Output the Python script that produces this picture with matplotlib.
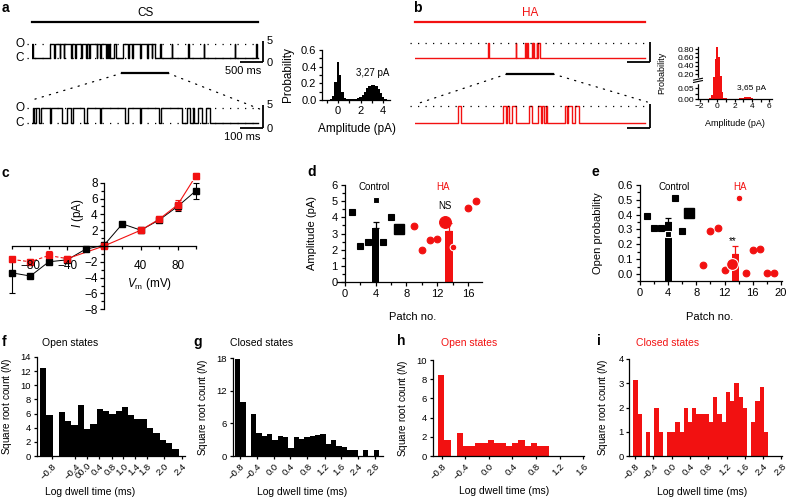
import matplotlib
matplotlib.use('Agg')
import matplotlib.pyplot as plt
import numpy as np
from matplotlib.patches import ConnectionPatch
from matplotlib.ticker import FixedLocator, MultipleLocator, FormatStrFormatter

plt.rcParams['font.family'] = ['Liberation Sans', 'DejaVu Sans']
plt.rcParams['mathtext.fontset'] = 'custom'
plt.rcParams['mathtext.rm'] = 'Liberation Sans'
plt.rcParams['mathtext.it'] = 'Liberation Sans:italic'
plt.rcParams['axes.linewidth'] = 0.9
for k in ['xtick.major.width', 'ytick.major.width', 'xtick.minor.width', 'ytick.minor.width']:
    plt.rcParams[k] = 0.9

W, H = 788, 499
RED = '#f21111'

# ---- single channel traces, open intervals in s ----
cs_amplitude = 3.27
ha_amplitude = 3.65
cs_open = [(0.00, 0.03), (0.40, 0.49), (0.505, 0.61), (0.625, 0.70), (0.715, 0.87), (0.885, 0.96),
           (0.975, 1.09), (1.105, 1.20), (1.215, 1.27), (1.285, 1.43), (1.445, 1.51), (1.525, 1.64),
           (1.655, 1.69), (1.705, 1.73), (1.82, 1.86), (2.01, 2.12), (2.135, 2.21), (2.225, 2.39),
           (2.405, 2.54), (2.555, 2.65), (2.665, 2.72), (2.83, 2.845), (3.09, 3.10), (3.46, 3.475),
           (3.80, 3.81), (4.49, 4.50), (4.96, 4.97)]
cs_zoom_open = [(0.005, 0.009), (0.019, 0.032), (0.038, 0.079), (0.085, 0.132), (0.154, 0.174),
                (0.180, 0.228), (0.243, 0.299), (0.304, 0.412), (0.426, 0.476), (0.481, 0.564),
                (0.569, 0.662), (0.684, 0.700), (0.712, 0.718), (0.735, 0.750), (0.770, 0.787)]
ha_open = [(1.59, 1.60), (2.19, 2.20), (2.39, 2.41), (2.43, 2.46), (2.54, 2.56), (2.575, 2.59),
           (2.645, 2.66), (2.68, 2.72)]
ha_zoom_open = [(0.188, 0.199), (0.384, 0.394), (0.401, 0.410), (0.420, 0.439), (0.497, 0.507),
                (0.533, 0.546), (0.551, 0.561), (0.570, 0.573), (0.652, 0.662), (0.667, 0.681),
                (0.696, 0.714)]

# ---- amplitude histograms ----
amp_centers = [-1.0, -0.8, -0.6, -0.4, -0.2, 0.0, 0.2, 0.4, 0.6, 0.8, 1.0, 1.2, 1.4, 1.6,
               1.8, 2.0, 2.2, 2.4, 2.6, 2.8, 3.0, 3.2, 3.4, 3.6, 3.8, 4.0, 4.2, 4.4]
cs_prob = [0, 0.002, 0.01, 0.05, 0.22, 0.46, 0.30, 0.10, 0.03, 0.012, 0.008, 0.008, 0.01, 0.015,
           0.025, 0.04, 0.065, 0.10, 0.14, 0.165, 0.175, 0.175, 0.165, 0.13, 0.08, 0.04, 0.015, 0.005]
ha_prob = [0.001, 0.003, 0.02, 0.12, 0.55, 0.84, 0.60, 0.15, 0.03, 0.006, 0.003, 0.002, 0.002, 0.002,
           0.002, 0.002, 0.002, 0.002, 0.003, 0.004, 0.006, 0.008, 0.009, 0.009, 0.008, 0.005, 0.002, 0.001]

# ---- I-V ----
iv_voltage = [-100, -80, -60, -40, -20, 0, 20, 40, 60, 80, 100]
iv_control = [-3.4, -3.8, -2.0, -1.75, -0.4, 0.1, 2.8, 2.0, 3.3, 5.0, 7.0]
iv_control_err_low = [2.5, 0.2, 0.3, 0.2, 0.1, 0.1, 0.1, 0.2, 0.3, 0.6, 1.0]
iv_control_err_high = [1.6, 0.2, 0.3, 0.2, 0.1, 0.1, 0.1, 0.2, 0.3, 0.6, 1.0]
iv_ha_voltage = [-100, -80, -60, -40, 0, 40, 60, 80, 100]
iv_ha = [-1.7, -2.0, -1.2, -1.6, 0.0, 2.0, 3.4, 5.2, 8.9]
iv_ha_err = [0.3, 0.4, 0.6, 0.3, 0.1, 0.3, 0.4, 0.6, 0.4]

# ---- per patch amplitude (d) and open probability (e) ----
ctrl_patch = [1, 2, 3, 4, 5, 6]
ctrl_amp = [4.3, 2.2, 2.5, 5.05, 2.5, 4.05]
ctrl_po = [0.39, 0.31, 0.31, 0.27, 0.51, 0.29]
ctrl_example_patch = 7
ctrl_example_amp = 3.3
ctrl_example_po = 0.41
ha_amp_patch = [9, 10, 11, 12, 14, 16, 17]
ha_amp = [3.47, 1.95, 2.57, 2.67, 2.16, 4.56, 5.03]
ha_po_patch = [9, 10, 11, 12, 14, 15, 16, 17, 18, 19]
ha_po = [0.06, 0.29, 0.31, 0.03, 0.51, 0.01, 0.16, 0.17, 0.01, 0.01]
ha_example_patch = 13
ha_example_amp = 3.74
ha_example_po = 0.07
mean_amp = [3.33, 3.18]
sem_amp = [0.41, 0.46]
mean_po = [0.35, 0.135]
sem_po = [0.03, 0.055]
mean_pos = [4, 13.5]

# ---- dwell time histograms (square root counts per bin) ----
f_open_cs = [12.5, 5.8, 0, 6.2, 4.9, 4.4, 7.2, 3.8, 4.5, 6.7, 6.3, 5.9, 6.3, 7.0, 5.8, 5.2, 5.3,
             3.9, 3.3, 2.3, 1.8, 1.0]
f_labels = ['\u22120.8', '\u22120.4', '00.0', '0.4', '0.8', '1.0', '1.4', '1.8', '2.0', '2.4']
g_closed_cs = [17.8, 10.0, 0, 7.8, 4.2, 3.7, 4.0, 2.9, 3.6, 3.4, 1.4, 3.4, 3.1, 3.4, 3.7, 3.9, 4.0,
               2.2, 2.9, 1.8, 1.7, 1.1, 1.1, 0, 1.1, 0, 1.1]
g_labels = ['\u22120.8', '\u22120.4', '0.0', '0.4', '0.8', '1.2', '1.6', '2.4', '2.8']
h_open_ha = [8.4, 1.7, 0, 2.4, 1.0, 1.0, 1.4, 1.4, 1.7, 1.4, 1.4, 1.0, 1.4, 1.7, 1.0, 1.4, 1.0, 1.0]
h_labels = ['\u22120.8', '\u22120.4', '0.0', '0.4', '0.8', '1.2', '1.6']
i_closed_ha = [3.15, 1.75, 0, 1.0, 0, 2.0, 1.0, 0, 1.0, 1.0, 1.4, 1.0, 2.0, 1.4, 2.0, 1.75, 1.75,
               1.75, 1.4, 2.45, 1.75, 1.4, 2.65, 2.25, 3.0, 2.45, 2.0, 0, 1.4, 2.25, 2.85, 1.0]
i_labels = ['\u22120.8', '\u22120.4', '0.0', '0.4', '0.8', '1.2', '1.6', '2.4', '2.8']

fig = plt.figure(figsize=(W / 100, H / 100), dpi=100)


def px_axes(x0, y0, x1, y1):
    return fig.add_axes([x0 / W, 1 - y1 / H, (x1 - x0) / W, (y1 - y0) / H])


def ftext(x, y, s, **kw):
    fig.text(x / W, 1 - y / H, s, **kw)


def step_trace(intervals, amplitude, duration):
    t, i = [0.0], [0.0]
    for start, end in intervals:
        t += [start, start, end, end]
        i += [0.0, amplitude, amplitude, 0.0]
    t.append(duration)
    i.append(0.0)
    return t, i


def draw_trace(ax, intervals, amplitude, duration, color, dotted, scale_time, labels):
    t, i = step_trace(intervals, amplitude, duration)
    ax.plot(t, i, color=color, lw=1.0)
    for level in dotted:
        ax.plot([-0.02 * duration, duration], [level, level], color='k', lw=0.9,
                ls=(0, (1, 5)), clip_on=False)
    sx = duration * 1.022
    ax.plot([sx, sx], [-1.0, 4.0], color='k', lw=1.3, clip_on=False, solid_capstyle='butt')
    ax.plot([sx - scale_time, sx], [-1.0, -1.0], color='k', lw=1.3, clip_on=False,
            solid_capstyle='butt')
    if labels:
        ax.text(sx + 0.014 * duration, 4.0, '5', fontsize=8, va='center', ha='left')
        ax.text(sx + 0.014 * duration, -1.2, '0', fontsize=8, va='center', ha='left')
        ax.text(sx - 0.01 * duration, -3.1, labels, fontsize=8, va='center', ha='right')
    ax.axis('off')


# ---------------- a: CS traces ----------------
ax_a1 = px_axes(32, 36.5, 271.6, 66.6)
ax_a1.set_xlim(0, 5.3)
ax_a1.set_ylim(-2, 5)
draw_trace(ax_a1, cs_open, cs_amplitude, 5.0, 'k', [0, cs_amplitude], 0.5, '500 ms')
ax_a1.plot([0, 5.0], [8.4, 8.4], color='k', lw=1.6, clip_on=False)
ax_a1.text(2.5, 10.4, 'CS', ha='center', va='center', fontsize=8.5)
ax_a1.plot([2.0, 3.0], [-3.5, -3.5], color='k', lw=1.6, clip_on=False)
for lvl, s in [(cs_amplitude, 'O'), (0, 'C')]:
    ax_a1.text(-0.05, lvl, s, transform=ax_a1.get_yaxis_transform(), ha='center', va='center',
               fontsize=8.5)

ax_a2 = px_axes(32, 95.4, 271.6, 132.2)
ax_a2.set_xlim(0, 1.06)
ax_a2.set_ylim(-2, 6)
draw_trace(ax_a2, cs_zoom_open, cs_amplitude, 1.0, 'k', [0, cs_amplitude], 0.1, '100 ms')
for lvl, s in [(cs_amplitude, 'O'), (0, 'C')]:
    ax_a2.text(-0.05, lvl, s, transform=ax_a2.get_yaxis_transform(), ha='center', va='center',
               fontsize=8.5)
for xa, xb, yb in [(2.0, 0.0, 5.0), (3.0, 1.02, 2.8)]:
    fig.add_artist(ConnectionPatch(xyA=(xa, -3.5), coordsA=ax_a1.transData, xyB=(xb, yb),
                                   coordsB=ax_a2.transData, color='k', lw=0.9, ls=(0, (1, 5))))

# ---------------- b: HA traces ----------------
ax_b1 = px_axes(415, 38, 658.8, 66)
ax_b1.set_xlim(0, 5.3)
ax_b1.set_ylim(-2, 5)
draw_trace(ax_b1, ha_open, ha_amplitude, 5.0, RED, [ha_amplitude], 0.5, None)
ax_b1.plot([0, 5.0], [9.0, 9.0], color=RED, lw=1.6, clip_on=False)
ax_b1.text(2.5, 11.2, 'HA', ha='center', va='center', fontsize=8.5, color=RED)
ax_b1.plot([2.0, 3.0], [-4.0, -4.0], color='k', lw=1.6, clip_on=False)

ax_b2 = px_axes(415, 95, 658.8, 132.3)
ax_b2.set_xlim(0, 1.06)
ax_b2.set_ylim(-2, 6)
draw_trace(ax_b2, ha_zoom_open, ha_amplitude, 1.0, RED, [ha_amplitude], 0.1, None)
for xa, xb, yb in [(2.0, 0.02, 4.3), (3.0, 1.01, 4.5)]:
    fig.add_artist(ConnectionPatch(xyA=(xa, -4.0), coordsA=ax_b1.transData, xyB=(xb, yb),
                                   coordsB=ax_b2.transData, color='k', lw=0.9, ls=(0, (1, 5))))


def clean(ax):
    ax.spines['top'].set_visible(False)
    ax.spines['right'].set_visible(False)


# ---------------- amplitude histogram a ----------------
ax = px_axes(322, 50, 390, 100)
ax.bar(amp_centers, cs_prob, width=0.2, color='k', linewidth=0)
ax.set_xlim(-1.4, 4.6)
ax.set_ylim(0, 0.6)
clean(ax)
ax.set_yticks([0, 0.2, 0.4, 0.6])
ax.yaxis.set_major_formatter(FormatStrFormatter('%.1f'))
ax.yaxis.set_minor_locator(MultipleLocator(0.1))
ax.set_xticks([0, 2, 4])
ax.xaxis.set_minor_locator(FixedLocator([-1, 1, 3]))
ax.tick_params(which='both', labelsize=8, length=2.5, pad=1.5)
ax.set_ylabel('Probability', fontsize=8.5)
ax.yaxis.set_label_coords(-0.41, 0.5)
ax.set_xlabel('Amplitude (pA)', fontsize=8.5)
ax.xaxis.set_label_coords(0.52, -0.46)
ax.text(3.1, 0.32, '3,27 pA', ha='center', va='center', fontsize=7)

# ---------------- amplitude histogram b (broken axis) ----------------
def fwd(v):
    return np.interp(v, [0, 0.075, 0.12, 1.0], [0, 16.5, 21.7, 58.4])


def inv(v):
    return np.interp(v, [0, 16.5, 21.7, 58.4], [0, 0.075, 0.12, 1.0])


ax = px_axes(698, 47, 772, 99)
ax.set_yscale('function', functions=(fwd, inv))
ax.bar(amp_centers, ha_prob, width=0.2, color=RED, linewidth=0)
ax.set_xlim(-2.2, 6.3)
ax.set_ylim(0, 0.85)
clean(ax)
ax.yaxis.set_major_locator(FixedLocator([0, 0.05, 0.2, 0.4, 0.6, 0.8]))
ax.yaxis.set_minor_locator(FixedLocator([0.025, 0.3, 0.5, 0.7]))
ax.yaxis.set_major_formatter(FormatStrFormatter('%.2f'))
ax.set_xticks([-2, 0, 2, 4, 6])
ax.xaxis.set_minor_locator(FixedLocator([-1, 1, 3, 5]))
ax.tick_params(which='both', labelsize=6, length=2, pad=1)
trans = ax.get_yaxis_transform()
ax.plot([0, 0], [0.082, 0.108], transform=trans, color='white', lw=2.5, clip_on=False, zorder=5)
for yb in (0.08, 0.1):
    ax.plot([-0.06, 0.06], [yb - 0.004, yb + 0.012], transform=trans, color='k', lw=0.8,
            clip_on=False, zorder=6)
ax.set_ylabel('Probability', fontsize=6.5)
ax.yaxis.set_label_coords(-0.43, 0.5)
ax.set_xlabel('Amplitude (pA)', fontsize=6.5)
ax.xaxis.set_label_coords(0.5, -0.385)
ax.text(4.0, 0.05, '3,65 pA', ha='center', va='center', fontsize=6)

# ---------------- c: I-V ----------------
ax = px_axes(12, 181.2, 196, 310.8)
ax.set_xlim(-100, 100)
ax.set_ylim(-8.2, 8.2)
ax.set_axisbelow(False)
clean(ax)
ax.spines['left'].set_position(('data', 0))
ax.spines['bottom'].set_position(('data', 0))
ax.spines['left'].set_bounds(-8, 8)
ax.xaxis.set_major_locator(FixedLocator([-80, -40, 40, 80]))
ax.xaxis.set_minor_locator(MultipleLocator(20))
ax.yaxis.set_major_locator(FixedLocator([-8, -6, -4, -2, 2, 4, 6, 8]))
ax.yaxis.set_minor_locator(MultipleLocator(1))
ax.tick_params(which='major', labelsize=8.5, length=3)
ax.tick_params(which='minor', length=2)
ax.tick_params(axis='x', which='major', pad=7)
ax.tick_params(axis='y', which='major', pad=1.5)
ax.plot(iv_voltage, iv_control, color='k', lw=0.7)
ax.errorbar(iv_voltage, iv_control, yerr=[iv_control_err_low, iv_control_err_high], fmt='s',
            ms=3.8, color='k', capsize=2, elinewidth=0.8, capthick=0.8, clip_on=False)
ax.plot(iv_ha_voltage[:4], iv_ha[:4], color=RED, lw=0.8, ls=(0, (3, 2)))
ax.plot(iv_ha_voltage[3:], iv_ha[3:], color=RED, lw=0.8)
ax.errorbar(iv_ha_voltage, iv_ha, yerr=iv_ha_err, fmt='s', ms=3.8, color=RED, capsize=2,
            elinewidth=0.8, capthick=0.8, clip_on=False)
ax.text(0.36, 0.755, '$I$ (pA)', rotation=90, ha='center', va='center', fontsize=8.5,
        transform=ax.transAxes)
ax.text(0.75, 0.207, '$V_\\mathrm{m}$ (mV)', ha='center', va='center', fontsize=8.5,
        transform=ax.transAxes)


def patch_panel(ax, values_ctrl, ex_ctrl, ha_x, values_ha, ex_ha, means, sems, bottom):
    ax.bar(mean_pos, [m - bottom for m in means], bottom=bottom, width=1.0, color=['k', RED],
           linewidth=0, zorder=2)
    for x, m, s, c in zip(mean_pos, means, sems, ['k', RED]):
        ax.errorbar(x, m, yerr=[[0], [s]], color=c, capsize=2.5, elinewidth=0.9, capthick=0.9,
                    zorder=2)
    for x, y in zip(ctrl_patch, values_ctrl):
        edge = 'white' if abs(x - mean_pos[0]) <= 0.5 else 'k'
        ax.plot(x, y, 's', ms=3.8, color='k', mec=edge, mew=0.8, clip_on=False, zorder=3)
    ax.plot(ctrl_example_patch, ex_ctrl, 's', ms=7, color='k', clip_on=False, zorder=3)
    for x, y in zip(ha_x, values_ha):
        edge = 'white' if abs(x - mean_pos[1]) <= 0.5 else RED
        ax.plot(x, y, 'o', ms=4.8, color=RED, mec=edge, mew=0.8, clip_on=False, zorder=3)
    edge = 'white' if abs(ha_example_patch - mean_pos[1]) <= 0.5 and ex_ha < means[1] else RED
    ax.plot(ha_example_patch, ex_ha, 'o', ms=8.5, color=RED, mec=edge, mew=0.8, clip_on=False,
            zorder=3)
    clean(ax)


# ---------------- d: amplitude per patch ----------------
ax = px_axes(337, 185, 482, 282)
patch_panel(ax, ctrl_amp, ctrl_example_amp, ha_amp_patch, ha_amp, ha_example_amp, mean_amp,
            sem_amp, 0)
ax.set_xlim(-1, 17.8)
ax.set_ylim(0, 6)
ax.spines['left'].set_position(('data', 0))
ax.set_xticks([0, 4, 8, 12, 16])
ax.xaxis.set_minor_locator(MultipleLocator(2))
ax.set_yticks(range(0, 7))
ax.yaxis.set_minor_locator(MultipleLocator(0.5))
ax.tick_params(which='major', labelsize=8, length=3, pad=2)
ax.tick_params(which='minor', length=2)
ax.set_ylabel('Amplitude (pA)', fontsize=8)
ax.yaxis.set_label_coords(-0.14, 0.5)
ax.set_xlabel('Patch no.', fontsize=8)
ax.xaxis.set_label_coords(0.52, -0.31)
ax.text(3.8, 5.87, 'Control', ha='center', va='center', fontsize=7)
ax.text(12.75, 5.87, 'HA', ha='center', va='center', fontsize=7, color=RED)
ax.text(13.0, 4.7, 'NS', ha='center', va='center', fontsize=7)

# ---------------- e: open probability per patch ----------------
ax = px_axes(640, 185, 782.4, 281.4)
patch_panel(ax, ctrl_po, ctrl_example_po, ha_po_patch, ha_po, ha_example_po, mean_po, sem_po,
            -0.05)
ax.set_xlim(0, 20.2)
ax.set_ylim(-0.05, 0.6)
ax.set_xticks([0, 4, 8, 12, 16, 20])
ax.xaxis.set_minor_locator(MultipleLocator(2))
ax.set_yticks([0, 0.1, 0.2, 0.3, 0.4, 0.5, 0.6])
ax.yaxis.set_major_formatter(FormatStrFormatter('%.1f'))
ax.yaxis.set_minor_locator(MultipleLocator(0.05))
ax.tick_params(which='major', labelsize=8, length=3, pad=2)
ax.tick_params(which='minor', length=2)
ax.set_ylabel('Open probability', fontsize=8)
ax.yaxis.set_label_coords(-0.26, 0.5)
ax.set_xlabel('Patch no.', fontsize=8)
ax.xaxis.set_label_coords(0.49, -0.317)
ax.text(4.8, 0.587, 'Control', ha='center', va='center', fontsize=7)
ax.text(14.2, 0.587, 'HA', ha='center', va='center', fontsize=7, color=RED)
ax.text(13.2, 0.225, '**', ha='center', va='center', fontsize=7)


# ---------------- f-i: dwell time histograms ----------------
def dwell_panel(box, heights, color, ymax, ystep, xlim, tick_pos, labels, ylab_x, xlab_x):
    ax = px_axes(*box)
    ax.bar(np.arange(len(heights)), heights, width=1.0, align='edge', color=color, linewidth=0)
    ax.set_xlim(*xlim)
    ax.set_ylim(0, ymax)
    clean(ax)
    ax.set_yticks(np.arange(0, ymax + 0.01, ystep))
    ax.set_xticks(tick_pos)
    ax.set_xticklabels(labels, rotation=45, ha='right', rotation_mode='anchor')
    ax.tick_params(labelsize=6.8, length=2.5, pad=1.5)
    ax.set_ylabel('Square root count ($N$)', fontsize=7.2)
    ax.yaxis.set_label_coords(ylab_x, 0.5)
    ax.set_xlabel('Log dwell time (ms)', fontsize=7.5)
    ax.xaxis.set_label_coords(xlab_x, -0.315)
    return ax


dwell_panel((36.7, 357, 185.4, 456), f_open_cs, 'k', 14, 2, (-0.52, 23.08),
            [1.85, 5.6, 7.4, 9.4, 11.4, 13.2, 15.1, 17.0, 19.7, 22.6], f_labels, -0.15, 0.36)
dwell_panel((232.7, 358, 383, 456), g_closed_cs, 'k', 18, 6, (-0.43, 27.77),
            [0.94, 4.1, 7.3, 10.4, 13.6, 16.8, 19.9, 23.1, 26.2], g_labels, -0.15, 0.46)
dwell_panel((432.7, 360, 584.3, 456), h_open_ha, RED, 10, 2, (-0.9, 23.67),
            [0.54, 4.37, 8.2, 12.03, 15.86, 19.69, 23.52], h_labels, -0.15, 0.47)
dwell_panel((629.3, 359, 781.7, 456), i_closed_ha, RED, 4, 1, (-0.95, 35.25),
            [0.4, 4.75, 9.1, 13.45, 17.8, 22.15, 26.5, 30.85, 35.2], i_labels, -0.127, 0.48)

# panel letters and titles
for x, y, s in [(2, 8, 'a'), (413, 8, 'b'), (2, 173, 'c'), (307, 172, 'd'), (592, 172, 'e'),
                (2, 342, 'f'), (193, 342, 'g'), (397, 341, 'h'), (597, 341, 'i')]:
    ftext(x, y, s, fontsize=10, fontweight='bold', ha='left', va='center')
ftext(70, 343, 'Open states', fontsize=7.5, ha='center', va='center')
ftext(262, 343, 'Closed states', fontsize=7.5, ha='center', va='center')
ftext(469, 343, 'Open states', fontsize=7.5, ha='center', va='center', color=RED)
ftext(668, 343, 'Closed states', fontsize=7.5, ha='center', va='center', color=RED)

fig.savefig('out.png', dpi=100)
